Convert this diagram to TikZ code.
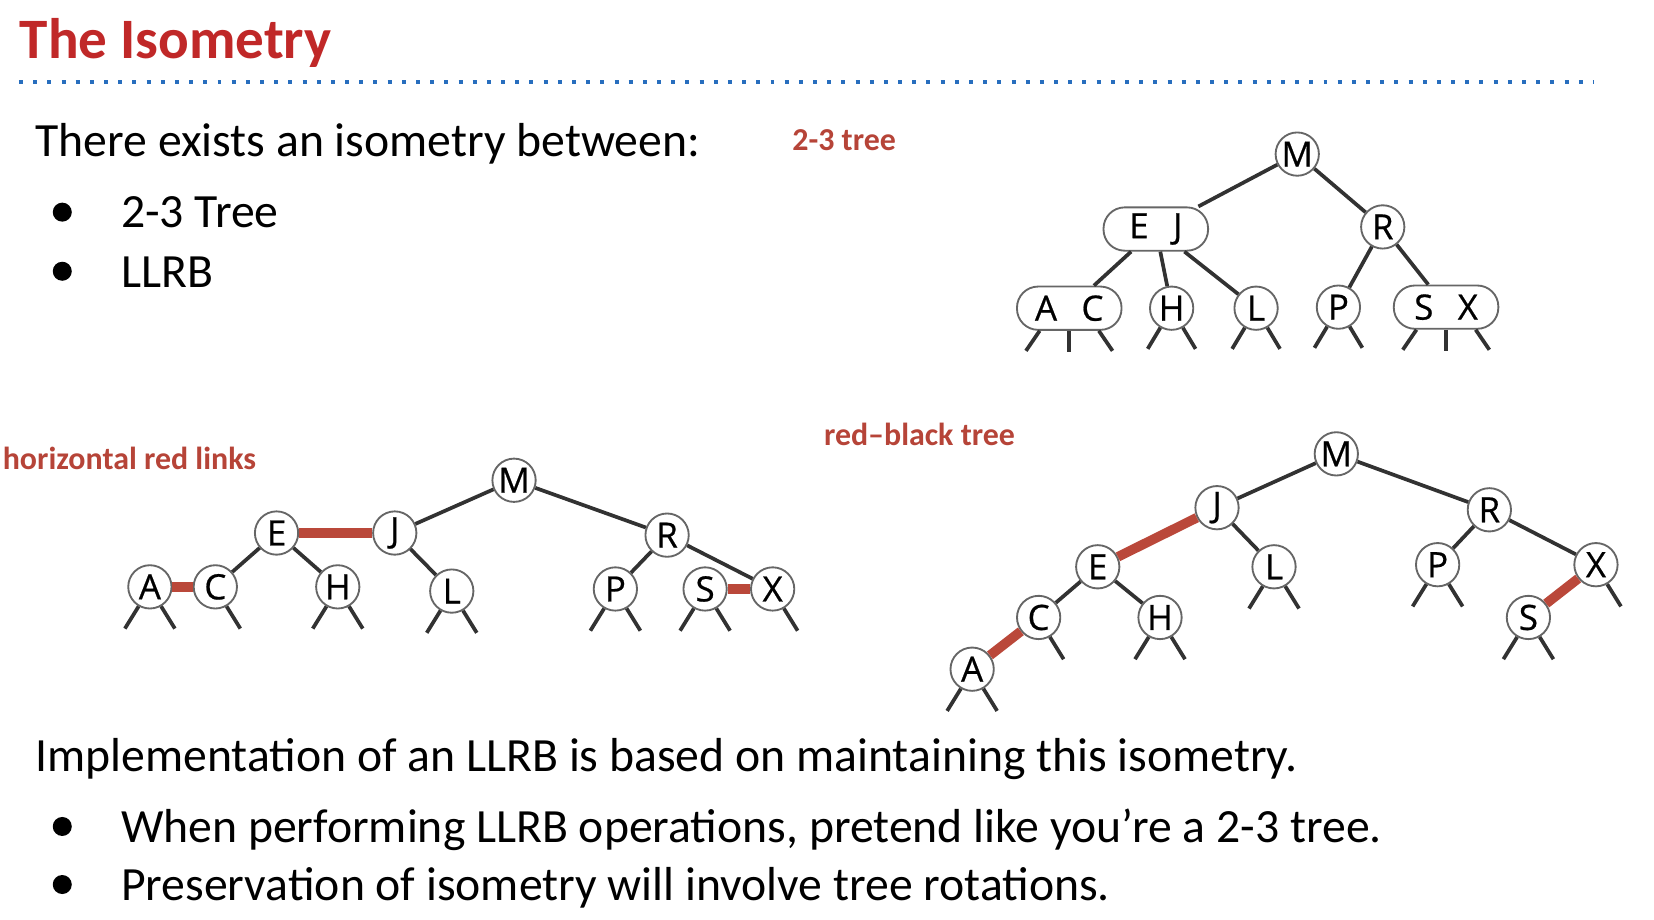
\documentclass[tikz,border=0pt]{standalone}
\usepackage{fontspec}
\setmainfont{Carlito}
\newfontfamily\keyfont[FakeBold=0.6]{Open Sans}
\usepackage{tikz}

\definecolor{titlered}{RGB}{192,40,40}
\definecolor{labelred}{RGB}{182,68,56}
\definecolor{linkred}{RGB}{186,72,58}
\definecolor{edgegray}{RGB}{50,50,50}
\definecolor{rulerblue}{RGB}{40,110,190}

\begin{document}
\begin{tikzpicture}[x=0.01cm, y=-0.01cm,
    key/.style={circle, draw=black!60, line width=0.5pt, fill=white,
      minimum size=0.41cm, inner sep=0pt, font=\keyfont\fontsize{9.4}{10}\selectfont},
    keypair/.style={rectangle, rounded corners=0.2cm, draw=black!60, line width=0.5pt,
      fill=white, minimum width=0.99cm, minimum height=0.41cm, inner sep=0pt,
      font=\keyfont\fontsize{9.4}{10}\selectfont},
    link/.style={draw=edgegray, line width=1pt},
    redlink/.style={draw=linkred, line width=2.6pt},
    caption/.style={anchor=west, inner sep=0pt, text=labelred,
      font=\bfseries\fontsize{8.6}{9}\selectfont},
    body/.style={anchor=base west, inner sep=0pt, font=\fontsize{12.85}{15}\selectfont},
    dot/.style={circle, fill=black, inner sep=0pt, minimum size=0.18cm}]

  \useasboundingbox (0,0) rectangle (1567,871.6);

  % heading
  \node [anchor=base west, inner sep=0pt, text=titlered,
    font=\bfseries\fontsize{15.4}{18}\selectfont] (title) at (18,55) {The Isometry};
  \draw [rulerblue, line width=1.07pt, dash pattern=on 1.07pt off 2.75pt] (18,78) -- (1510,78);

  % text
  \node [body] (intro) at (33,148) {There exists an isometry between:};
  \node [dot] (b1) at (59,201) {};
  \node [body] (i1) at (114,216) {2-3 Tree};
  \node [dot] (b2) at (59,257) {};
  \node [body] (i2) at (114,272) {LLRB};

  \node [body] (impl) at (33,731) {Implementation of an LLRB is based on maintaining this isometry.};
  \node [dot] (b3) at (59,783) {};
  \node [body] (i3) at (114,798) {When performing LLRB operations, pretend like you’re a 2-3 tree.};
  \node [dot] (b4) at (59,838) {};
  \node [body] (i4) at (114,853) {Preservation of isometry will involve tree rotations.};

  % 2-3 tree
  \node [caption] (cap1) at (750,133) {2-3 tree};
  \node [key] (tM) at (1229,146) {M};
  \node [keypair] (tEJ) at (1095,217) {E\hspace{0.7em}J};
  \node [key] (tR) at (1310,215) {R};
  \node [keypair] (tAC) at (1013,292) {A\hspace{0.7em}C};
  \node [key] (tH) at (1110,292) {H};
  \node [key] (tL) at (1190,292) {L};
  \node [key] (tP) at (1268,291) {P};
  \node [keypair] (tSX) at (1370,291) {S\hspace{0.7em}X};

  \draw [link] (tM) -- (tEJ);
  \draw [link] (tM) -- (tR);
  \draw [link] (tEJ) -- (tAC);
  \draw [link] (tEJ) -- (tH);
  \draw [link] (tEJ) -- (tL);
  \draw [link] (tR) -- (tP);
  \draw [link] (tR) -- (tSX);

  \foreach \n in {tH,tL,tP} {
    \draw [link] (\n.-120) -- ++(-12,20);
    \draw [link] (\n.-60) -- ++(12,20);
  }
  \foreach \n in {tAC,tSX} {
    \draw [link] ([xshift=-0.28cm]\n.south) -- ++(-13,19);
    \draw [link] (\n.south) -- ++(0,20);
    \draw [link] ([xshift=0.28cm]\n.south) -- ++(13,19);
  }

  % horizontal red links
  \node [caption] (cap2) at (2,434) {horizontal red links};
  \node [key] (hM) at (487,455) {M};
  \node [key] (hE) at (262,505) {E};
  \node [key] (hJ) at (374,505) {J};
  \node [key] (hR) at (632,507) {R};
  \node [key] (hA) at (142,556) {A};
  \node [key] (hC) at (204,556) {C};
  \node [key] (hH) at (320,556) {H};
  \node [key] (hL) at (428,560) {L};
  \node [key] (hP) at (583,558) {P};
  \node [key] (hS) at (668,558) {S};
  \node [key] (hX) at (732,558) {X};

  \draw [link] (hM) -- (hJ);
  \draw [link] (hM) -- (hR);
  \draw [link] (hE) -- (hC);
  \draw [link] (hE) -- (hH);
  \draw [link] (hJ) -- (hL);
  \draw [link] (hR) -- (hP);
  \draw [link] (hR) -- (hX);
  \draw [redlink] (hE) -- (hJ);
  \draw [redlink] (hA) -- (hC);
  \draw [redlink] (hS) -- (hX);

  \foreach \n in {hA,hH,hL,hP,hS} {
    \draw [link] (\n.-120) -- ++(-13,21);
    \draw [link] (\n.-60) -- ++(13,21);
  }
  \foreach \n in {hC,hX} {
    \draw [link] (\n.-60) -- ++(13,21);
  }

  % red-black tree
  \node [caption] (cap3) at (780,412) {red–black tree};
  \node [key] (rM) at (1266,430) {M};
  \node [key] (rJ) at (1153,481) {J};
  \node [key] (rR) at (1411,483) {R};
  \node [key] (rE) at (1040,537) {E};
  \node [key] (rL) at (1207,537) {L};
  \node [key] (rP) at (1362,535) {P};
  \node [key] (rX) at (1512,535) {X};
  \node [key] (rC) at (984,585) {C};
  \node [key] (rH) at (1099,585) {H};
  \node [key] (rS) at (1448,585) {S};
  \node [key] (rA) at (921,634) {A};

  \draw [link] (rM) -- (rJ);
  \draw [link] (rM) -- (rR);
  \draw [link] (rJ) -- (rL);
  \draw [link] (rR) -- (rP);
  \draw [link] (rR) -- (rX);
  \draw [link] (rE) -- (rC);
  \draw [link] (rE) -- (rH);
  \draw [redlink] (rJ) -- (rE);
  \draw [redlink] (rC) -- (rA);
  \draw [redlink] (rX) -- (rS);

  \foreach \n in {rL,rP,rH,rS,rA} {
    \draw [link] (\n.-120) -- ++(-13,21);
    \draw [link] (\n.-60) -- ++(13,21);
  }
  \foreach \n in {rC,rX} {
    \draw [link] (\n.-60) -- ++(13,21);
  }
\end{tikzpicture}
\end{document}
